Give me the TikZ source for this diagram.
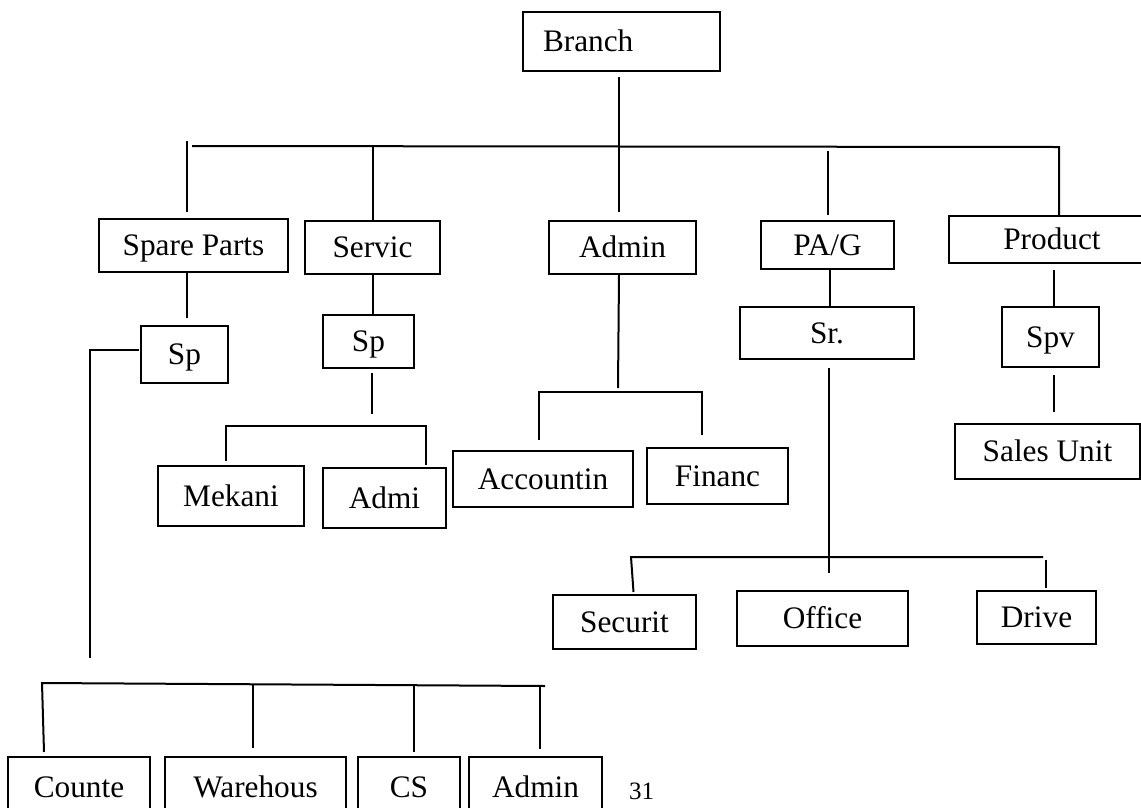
\documentclass[tikz,border=0pt]{standalone}
\usepackage{fontspec}
\setmainfont{Liberation Serif}
\usepackage{tikz}
\usetikzlibrary{positioning,calc}

\begin{document}
\begin{tikzpicture}[x=1pt, y=-1pt, line width=2pt,
    unit/.style={draw, minimum height=53pt, inner sep=0pt, font=\fontsize{31.3}{37}\selectfont, text height=20.7pt, text depth=0pt},
    pagenum/.style={inner sep=0pt, font=\fontsize{25}{28}\selectfont}]
    \useasboundingbox (0,0) rectangle (1141,807);

    \node [unit, minimum width=197pt, minimum height=59pt, text width=157pt, align=left] (branch) at (621.5,41.5) {Branch};

    \node [unit, minimum width=189pt] (spare) at (193.5,245.5) {Spare Parts};
    \node [unit, minimum width=135pt] (servic) at (372.5,247.5) {Servic};
    \node [unit, minimum width=147pt] (admin) at (622.5,247.5) {Admin};
    \node [unit, minimum width=133pt, minimum height=48pt] (pag) at (827.5,245) {PA/G};
    \node [unit, minimum width=206pt, minimum height=47pt] (product) at (1052,239.5) {Product};

    \node [unit, minimum width=87pt, minimum height=57pt] (spleft) at (184.5,354.5) {Sp};
    \node [unit, minimum width=91pt] (spserv) at (368.5,341.5) {Sp};
    \node [unit, minimum width=174pt, minimum height=52pt] (sr) at (827,333) {Sr.};
    \node [unit, minimum width=97pt, minimum height=60pt] (spv) at (1050.5,337) {Spv};
    \node [unit, minimum width=185pt, minimum height=55pt] (sales) at (1047.5,451.5) {Sales Unit};

    \node [unit, minimum width=146pt, minimum height=60pt] (mekani) at (231,496) {Mekani};
    \node [unit, minimum width=123pt, minimum height=60pt] (admi) at (384.5,498) {Admi};
    \node [unit, minimum width=180pt, minimum height=56pt] (acct) at (543,479) {Accountin};
    \node [unit, minimum width=141pt, minimum height=56pt] (financ) at (717.5,476) {Financ};

    \node [unit, minimum width=143pt, minimum height=54pt] (securit) at (624.5,622) {Securit};
    \node [unit, minimum width=171pt, minimum height=55pt] (office) at (822.5,618.5) {Office};
    \node [unit, minimum width=119pt] (drive) at (1036.5,617.5) {Drive};

    \node [unit, minimum width=142pt, minimum height=60pt] (counte) at (79,787) {Counte};
    \node [unit, minimum width=181pt, minimum height=60pt] (warehous) at (255.5,787) {Warehous};
    \node [unit, minimum width=102pt, minimum height=60pt] (cs) at (409,787) {CS};
    \node [unit, minimum width=133pt, minimum height=60pt] (adminsp) at (535.5,787) {Admin};
    \node [pagenum, below right=26pt and 25pt of adminsp.north east] (page) {31};

    \coordinate (busL) at (192,146);
    \coordinate (busR) at (1059,147);
    \draw ($(branch.south)+(-2.5,5)$) -- ($(admin.north)+(-3.5,-8)$);
    \draw (busL) -- (busR) -- (busR |- product.north);
    \draw ($(spare.north)+(-6.5,-77)$) -- ($(spare.north)+(-6.5,-6)$);
    \draw (servic.north) -- (servic.north |- busL);
    \draw ($(pag.north)+(0,-69)$) -- ($(pag.north)+(0,-5)$);

    \coordinate (spcorner) at (90,350);
    \coordinate (spfoot) at (90,658);
    \coordinate (lowL) at (42,683);
    \coordinate (lowR) at (545,686);
    \draw ($(spare.south)+(-6.5,0)$) -- ($(spleft.north)+(2.5,-7)$);
    \draw ($(spleft.west)+(-1,-4.5)$) -- (spcorner) -- (spfoot);
    \draw ($(counte.north)+(-35,-4)$) -- (lowL) -- (lowR);
    \draw ($(warehous.north)+(-2.5,-72)$) -- ($(warehous.north)+(-2.5,-8)$);
    \draw ($(cs.north)+(5,-71)$) -- ($(cs.north)+(5,-4)$);
    \draw ($(adminsp.north)+(4.5,-71)$) -- ($(adminsp.north)+(4.5,-7)$);

    \coordinate (mekbusL) at (226,426);
    \coordinate (mekbusR) at (426,426);
    \draw (servic.south) -- (servic.south |- spserv.north);
    \draw ($(spserv.south)+(3.5,4)$) -- ($(spserv.south)+(3.5,45)$);
    \draw ($(mekani.north)+(-5,-4)$) -- (mekbusL) -- (mekbusR) -- ($(admi.north)+(41.5,-2)$);

    \coordinate (accbusL) at (539,392);
    \coordinate (accbusR) at (702,392);
    \draw ($(admin.south)+(-3.5,0)$) -- ($(admin.south)+(-4.5,113)$);
    \draw ($(acct.north)+(-4,-10)$) -- (accbusL) -- (accbusR) -- ($(financ.north)+(-15.5,-12)$);

    \coordinate (secbusL) at (631,557);
    \coordinate (secbusR) at (1043,557);
    \draw ($(pag.south)+(2.5,-1)$) -- ($(sr.north)+(3,0)$);
    \draw ($(sr.south)+(2,8)$) -- ($(office.north)+(6.5,-17)$);
    \draw ($(securit.north)+(9,-2)$) -- (secbusL) -- (secbusR);
    \draw ($(drive.north)+(9.5,-30)$) -- ($(drive.north)+(9.5,-2)$);

    \draw ($(product.south)+(2,6)$) -- ($(spv.north)+(3.5,0)$);
    \draw ($(spv.south)+(3.5,7)$) -- ($(sales.north)+(6.5,-11)$);
\end{tikzpicture}
\end{document}
